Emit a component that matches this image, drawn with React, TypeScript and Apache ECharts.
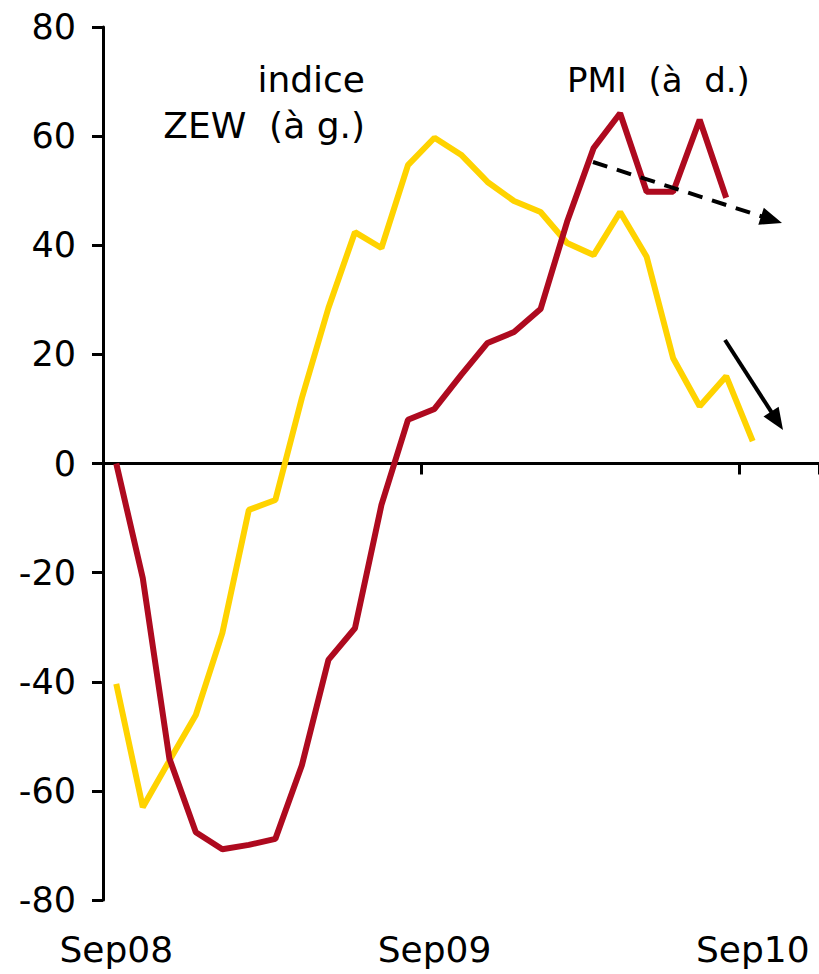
import React, { useEffect, useRef } from "react";
import * as echarts from "echarts";

const months = [
  "Sep08", "Oct08", "Nov08", "Dec08", "Jan09", "Feb09", "Mar09", "Apr09", "May09",
  "Jun09", "Jul09", "Aug09", "Sep09", "Oct09", "Nov09", "Dec09", "Jan10", "Feb10",
  "Mar10", "Apr10", "May10", "Jun10", "Jul10", "Aug10", "Sep10", "Oct10", "Nov10",
];

const zewValues = [
  -40.4, -63.0, -54.5, -46.1, -31.1, -8.5, -6.7, 12.0, 28.5, 42.4, 39.5, 54.7, 59.7,
  56.6, 51.6, 48.1, 46.1, 40.4, 38.2, 46.1, 37.9, 19.3, 10.5, 16.0, 4.1,
];

const pmiValues = [
  0, -21.0, -54.0, -67.6, -70.7, -69.9, -68.8, -55.3, -36.0, -30.2, -7.6, 8.0, 10.0,
  16.2, 22.1, 24.1, 28.3, 44.3, 57.8, 64.2, 49.8, 49.8, 63.0, 48.7,
];

const yTicks = { min: -80, max: 80, interval: 20 };

const FONT = "'DejaVu Sans', Verdana, sans-serif";

function arrowHead(x1: number, y1: number, x2: number, y2: number, len: number, half: number) {
  const dx = x2 - x1;
  const dy = y2 - y1;
  const d = Math.sqrt(dx * dx + dy * dy);
  const ux = dx / d;
  const uy = dy / d;
  const bx = x2 - ux * len;
  const by = y2 - uy * len;
  return [
    [x2, y2],
    [bx - uy * half, by + ux * half],
    [bx + uy * half, by - ux * half],
  ];
}

function arrow(x1: number, y1: number, x2: number, y2: number, dashed: boolean) {
  const len = 22;
  const dx = x2 - x1;
  const dy = y2 - y1;
  const d = Math.sqrt(dx * dx + dy * dy);
  const ex = x2 - (dx / d) * (len - 4);
  const ey = y2 - (dy / d) * (len - 4);
  return [
    {
      type: "line",
      shape: { x1, y1, x2: ex, y2: ey },
      style: { stroke: "#000", lineWidth: 4, lineDash: dashed ? [15, 10] : null },
      z: 100,
    },
    {
      type: "polygon",
      shape: { points: arrowHead(x1, y1, x2, y2, len, 9) },
      style: { fill: "#000" },
      z: 100,
    },
  ];
}

export default function App() {
  const ref = useRef<HTMLDivElement>(null);
  useEffect(() => {
    if (!ref.current) return;
    const chart = echarts.init(ref.current, null, { renderer: "svg" });
    chart.setOption({
      animation: false,
      backgroundColor: "#fff",
      grid: { left: 103, top: 27, width: 716, height: 873, containLabel: false },
      xAxis: [
        {
          type: "category",
          data: months,
          boundaryGap: true,
          axisLine: { onZero: true, lineStyle: { color: "#000", width: 3 } },
          axisTick: { show: true, interval: 11, length: 11, lineStyle: { color: "#000", width: 3 } },
          axisLabel: { show: false },
          splitLine: { show: false },
        },
        {
          type: "category",
          data: months,
          boundaryGap: true,
          position: "bottom",
          axisLine: { show: false, onZero: false },
          axisTick: { show: false },
          axisLabel: {
            show: true,
            interval: 11,
            color: "#000",
            fontSize: 36,
            fontFamily: FONT,
            margin: 31,
          },
          splitLine: { show: false },
        },
      ],
      yAxis: {
        type: "value",
        min: yTicks.min,
        max: yTicks.max,
        interval: yTicks.interval,
        axisLine: { show: true, lineStyle: { color: "#000", width: 3 } },
        axisTick: { show: true, length: 11, lineStyle: { color: "#000", width: 3 } },
        axisLabel: { color: "#000", fontSize: 35, fontFamily: FONT, margin: 27 },
        splitLine: { show: false },
      },
      series: [
        {
          name: "indice ZEW (à g.)",
          type: "line",
          data: zewValues,
          symbol: "none",
          lineStyle: { color: "#FFD300", width: 6 },
          z: 3,
        },
        {
          name: "PMI (à d.)",
          type: "line",
          data: pmiValues,
          symbol: "none",
          lineStyle: { color: "#AE0A1F", width: 6 },
          z: 4,
        },
      ],
      graphic: [
        {
          type: "text",
          x: 365,
          y: 97,
          style: {
            text: "indice",
            fontSize: 36,
            fontFamily: FONT,
            fill: "#000",
            textAlign: "right",
            textVerticalAlign: "bottom",
          },
        },
        {
          type: "text",
          x: 365,
          y: 143,
          style: {
            text: "ZEW  (à g.)",
            fontSize: 36,
            fontFamily: FONT,
            fill: "#000",
            textAlign: "right",
            textVerticalAlign: "bottom",
          },
        },
        {
          type: "text",
          x: 567,
          y: 97,
          style: {
            text: "PMI  (à  d.)",
            fontSize: 34,
            fontFamily: FONT,
            fill: "#000",
            textAlign: "left",
            textVerticalAlign: "bottom",
          },
        },
        ...arrow(593, 162, 782, 223, true),
        ...arrow(725, 340, 783, 430, false),
      ],
    });
    return () => chart.dispose();
  }, []);
  return (
    <div
      ref={ref}
      style={{ position: "fixed", left: 0, top: 0, width: 819, height: 974, background: "#fff" }}
    />
  );
}
